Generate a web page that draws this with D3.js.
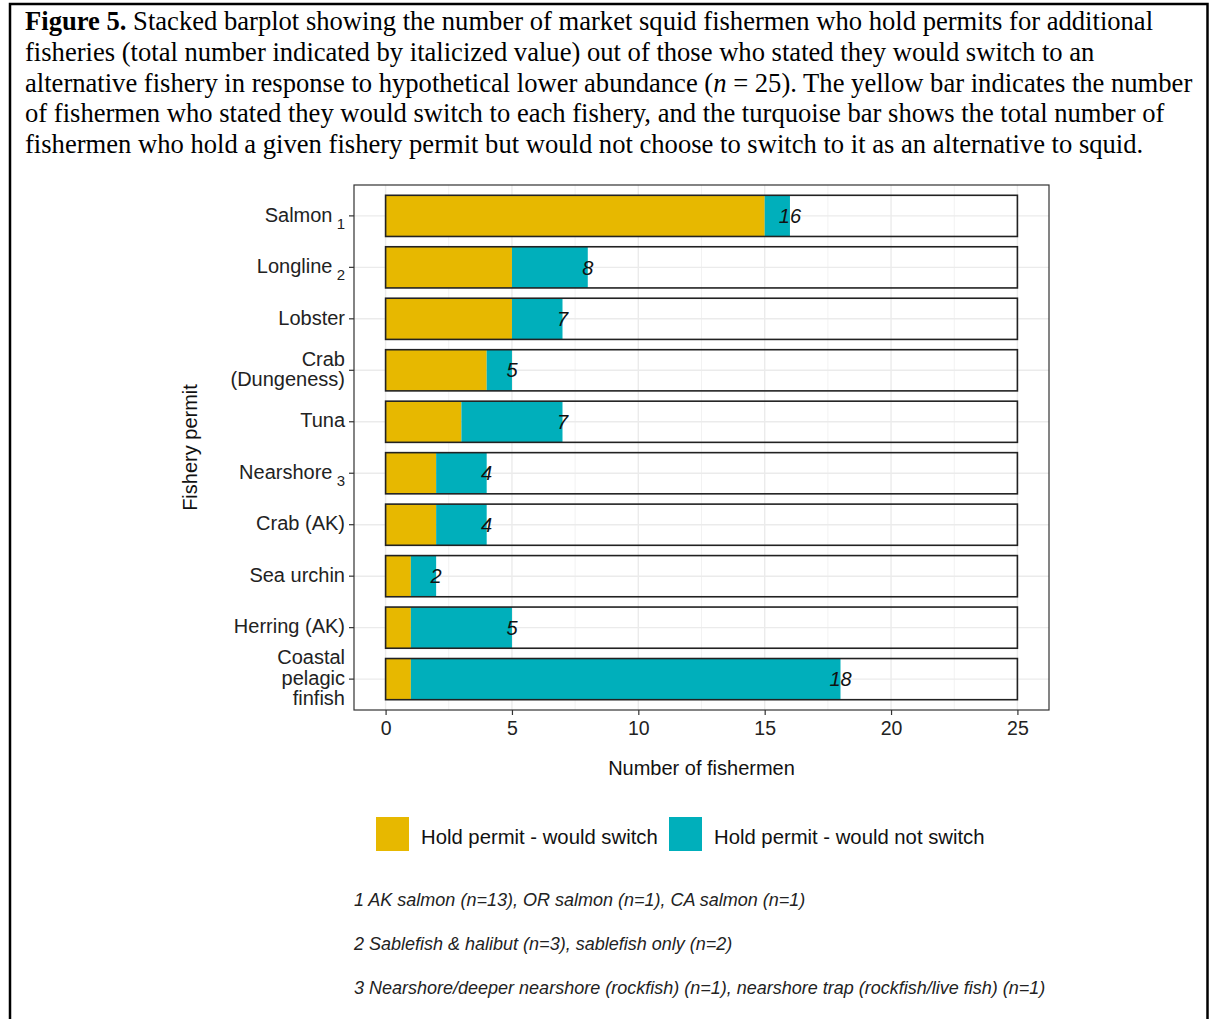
<!DOCTYPE html>
<html>
<head>
<meta charset="utf-8">
<script src="https://cdn.jsdelivr.net/npm/d3@7"></script>
<style>
  html, body { margin: 0; padding: 0; background: #fff; }
  svg { display: block; }
</style>
</head>
<body>
<svg id="chart" width="1209" height="1019"></svg>
<script>
// ---- Data ----
const categories = ["Salmon", "Longline", "Lobster", "Crab\n(Dungeness)", "Tuna", "Nearshore", "Crab (AK)", "Sea urchin", "Herring (AK)", "Coastal\npelagic\nfinfish"];
const subscripts = ["1", "2", "", "", "", "3", "", "", "", ""];
const wouldSwitch = [15, 5, 5, 4, 3, 2, 2, 1, 1, 1];
const wouldNotSwitch = [1, 3, 2, 1, 4, 2, 2, 1, 4, 17];
const totals = [16, 8, 7, 5, 7, 4, 4, 2, 5, 18];
const respondents = 25;
const xTicks = [0, 5, 10, 15, 20, 25];
const xMinorTicks = [2.5, 7.5, 12.5, 17.5, 22.5];
const seriesNames = ["Hold permit - would switch", "Hold permit - would not switch"];
const seriesColors = ["#E7B800", "#00AFBB"];
const footnotes = [
  "1 AK salmon (n=13), OR salmon (n=1), CA salmon (n=1)",
  "2 Sablefish & halibut (n=3), sablefish only (n=2)",
  "3 Nearshore/deeper nearshore (rockfish) (n=1), nearshore trap (rockfish/live fish) (n=1)"
];
const captionLines = [
  [["Figure 5.", "bold"], [" Stacked barplot showing the number of market squid fishermen who hold permits for additional", "normal"]],
  [["fisheries (total number indicated by italicized value) out of those who stated they would switch to an", "normal"]],
  [["alternative fishery in response to hypothetical lower abundance (", "normal"], ["n", "italic"], [" = 25). The yellow bar indicates the number", "normal"]],
  [["of fishermen who stated they would switch to each fishery, and the turquoise bar shows the total number of", "normal"]],
  [["fishermen who hold a given fishery permit but would not choose to switch to it as an alternative to squid.", "normal"]]
];

const svg = d3.select("#chart");
const SANS = "'Liberation Sans', Arial, sans-serif";
const SERIF = "'Liberation Serif', 'Times New Roman', serif";

// ---- Outer frame ----
svg.append("rect").attr("x", 10).attr("y", 4).attr("width", 1197.5).attr("height", 1030)
  .attr("fill", "none").attr("stroke", "#000").attr("stroke-width", 2.5);

// ---- Caption ----
const cap = svg.append("g");
captionLines.forEach((line, i) => {
  const t = cap.append("text").attr("x", 25).attr("y", 30 + i * 30.8)
    .attr("font-family", SERIF).attr("font-size", 26.6).attr("fill", "#000");
  line.forEach(([txt, style]) => {
    const ts = t.append("tspan").text(txt);
    if (style === "bold") ts.attr("font-weight", "bold");
    if (style === "italic") ts.attr("font-style", "italic");
  });
});

// ---- Scales ----
const panel = { left: 354, right: 1049, top: 185, bottom: 710 };
const x = d3.scaleLinear().domain([-0.05 * respondents, 1.05 * respondents]).range([panel.left, panel.right]);
const y = d3.scaleBand().domain(categories).range([panel.top, panel.bottom]).paddingInner(0.2).paddingOuter(0.2);
const yc = d => y(d) + y.bandwidth() / 2;

// ---- Grid ----
const grid = svg.append("g");
xMinorTicks.forEach(v => grid.append("line").attr("x1", x(v)).attr("x2", x(v))
  .attr("y1", panel.top).attr("y2", panel.bottom).attr("stroke", "#f2f2f2").attr("stroke-width", 1));
xTicks.forEach(v => grid.append("line").attr("x1", x(v)).attr("x2", x(v))
  .attr("y1", panel.top).attr("y2", panel.bottom).attr("stroke", "#ebebeb").attr("stroke-width", 1.4));
categories.forEach(c => grid.append("line").attr("x1", panel.left).attr("x2", panel.right)
  .attr("y1", yc(c)).attr("y2", yc(c)).attr("stroke", "#ebebeb").attr("stroke-width", 1.4));

// ---- Bars ----
const bars = svg.append("g");
categories.forEach((c, i) => {
  bars.append("rect").attr("x", x(0)).attr("y", y(c))
    .attr("width", x(wouldSwitch[i]) - x(0)).attr("height", y.bandwidth())
    .attr("fill", seriesColors[0]);
  bars.append("rect").attr("x", x(wouldSwitch[i])).attr("y", y(c))
    .attr("width", x(wouldSwitch[i] + wouldNotSwitch[i]) - x(wouldSwitch[i])).attr("height", y.bandwidth())
    .attr("fill", seriesColors[1]);
  bars.append("rect").attr("x", x(0)).attr("y", y(c))
    .attr("width", x(respondents) - x(0)).attr("height", y.bandwidth())
    .attr("fill", "none").attr("stroke", "#222").attr("stroke-width", 1.6);
  bars.append("text").attr("x", x(totals[i])).attr("y", yc(c)).attr("dy", "0.36em")
    .attr("text-anchor", "middle").attr("font-family", SANS).attr("font-style", "italic")
    .attr("font-size", 20).attr("fill", "#111").text(totals[i]);
});

// ---- Panel border ----
svg.append("rect").attr("x", panel.left).attr("y", panel.top)
  .attr("width", panel.right - panel.left).attr("height", panel.bottom - panel.top)
  .attr("fill", "none").attr("stroke", "#333").attr("stroke-width", 1.2);

// ---- X axis ----
const xAxis = svg.append("g").attr("transform", `translate(0,${panel.bottom})`)
  .call(d3.axisBottom(x).tickValues(xTicks).tickSize(5).tickPadding(6));
xAxis.select(".domain").remove();
xAxis.selectAll(".tick line").attr("stroke", "#333").attr("stroke-width", 1.2);
xAxis.selectAll(".tick text").attr("font-family", SANS).attr("font-size", 19.5).attr("fill", "#222");

svg.append("text").attr("x", (panel.left + panel.right) / 2).attr("y", 775)
  .attr("text-anchor", "middle").attr("font-family", SANS).attr("font-size", 20).attr("fill", "#111")
  .text("Number of fishermen");

// ---- Y axis ----
const yAxis = svg.append("g").attr("transform", `translate(${panel.left},0)`)
  .call(d3.axisLeft(y).tickSize(5).tickFormat(""));
yAxis.select(".domain").remove();
yAxis.selectAll(".tick line").attr("stroke", "#333").attr("stroke-width", 1.2);

const yLab = svg.append("g");
categories.forEach((c, i) => {
  const lines = c.split("\n");
  const lh = 20.5;
  const startY = yc(c) - 1.5 - (lines.length - 1) * lh / 2;
  lines.forEach((ln, j) => {
    const t = yLab.append("text").attr("x", 345).attr("y", startY + j * lh).attr("dy", "0.36em")
      .attr("text-anchor", "end").attr("font-family", SANS).attr("font-size", 20).attr("fill", "#222");
    t.append("tspan").text(ln);
    if (subscripts[i] && j === lines.length - 1) {
      t.append("tspan").text(" ").attr("font-size", 15);
      t.append("tspan").text(subscripts[i]).attr("font-size", 15).attr("dy", 7);
    }
  });
});

svg.append("text").attr("transform", `translate(197,${(panel.top + panel.bottom) / 2}) rotate(-90)`)
  .attr("text-anchor", "middle").attr("font-family", SANS).attr("font-size", 20).attr("fill", "#111")
  .text("Fishery permit");

// ---- Legend ----
const legX = [376, 669];
seriesNames.forEach((nm, i) => {
  svg.append("rect").attr("x", legX[i]).attr("y", 817).attr("width", 33).attr("height", 34)
    .attr("fill", seriesColors[i]);
  svg.append("text").attr("x", legX[i] + 45).attr("y", 837).attr("dy", "0.36em")
    .attr("font-family", SANS).attr("font-size", 20.3).attr("fill", "#111").text(nm);
});

// ---- Footnotes ----
footnotes.forEach((f, i) => {
  svg.append("text").attr("x", 354).attr("y", 900 + i * 44).attr("dy", "0.36em")
    .attr("font-family", SANS).attr("font-style", "italic").attr("font-size", 18).attr("fill", "#222")
    .text(f);
});
</script>
</body>
</html>
